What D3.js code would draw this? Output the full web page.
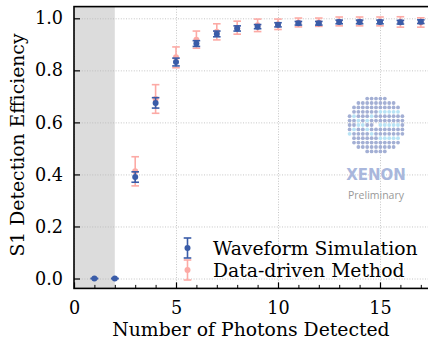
<!DOCTYPE html>
<html>
<head>
<meta charset="utf-8">
<script src="https://cdn.jsdelivr.net/npm/d3@7"></script>
<style>
body { margin: 0; background: #fff; }
svg { display: block; }
.tick text { font-family: "DejaVu Serif", serif; font-size: 17.6px; fill: #000; }
</style>
</head>
<body>
<svg id="chart" width="428" height="339"></svg>
<script>
// photons detected (x)
var photons = [1, 2, 3, 4, 5, 6, 7, 8, 9, 10, 11, 12, 13, 14, 15, 16, 17];
// waveform simulation efficiency and error
var simEff = [0.0, 0.0, 0.39, 0.675, 0.832, 0.903, 0.94, 0.961, 0.968, 0.975, 0.981, 0.981, 0.986, 0.986, 0.986, 0.985, 0.987];
var simErr = [0.0, 0.0, 0.02, 0.02, 0.015, 0.011, 0.011, 0.01, 0.008, 0.008, 0.007, 0.007, 0.007, 0.007, 0.007, 0.007, 0.007];
// data-driven method (starts at 3 photons)
var dataX = [3, 4, 5, 6, 7, 8, 9, 10, 11, 12, 13, 14, 15, 16, 17];
var dataEff = [0.412, 0.69, 0.85, 0.918, 0.948, 0.964, 0.973, 0.977, 0.984, 0.985, 0.988, 0.988, 0.988, 0.986, 0.984];
var dataErr = [0.056, 0.055, 0.04, 0.033, 0.031, 0.025, 0.024, 0.02, 0.017, 0.016, 0.017, 0.017, 0.017, 0.02, 0.018];

var xTicks = [0, 5, 10, 15];
var yTicks = [0.0, 0.2, 0.4, 0.6, 0.8, 1.0];
var seriesNames = ["Waveform Simulation", "Data-driven Method"];

var blue = "#3a5ca8";
var pink = "#fcaaa5";
var labelFont = "18.8px";

var svg = d3.select("#chart");

var x = d3.scaleLinear().domain([0, 17.5]).range([74, 431]);
var y = d3.scaleLinear().domain([-0.038, 1.045]).range([288.4, 6.6]);

// shaded region below 2 photons
svg.append("rect")
	.attr("x", x(0))
	.attr("y", y(1.045))
	.attr("width", x(2) - x(0))
	.attr("height", y(-0.038) - y(1.045))
	.attr("fill", "#dcdcdc");

// gridlines
svg.append("g")
	.attr("transform", "translate(0," + y(-0.038) + ")")
	.call(d3.axisBottom(x).tickValues(xTicks).tickSize(-(y(-0.038) - y(1.045))).tickFormat(""))
	.call(g => g.select(".domain").remove())
	.selectAll("line")
		.attr("stroke", "#b8b8b8")
		.attr("stroke-width", 0.8)
		.attr("stroke-dasharray", "1,1.6");

svg.append("g")
	.attr("transform", "translate(" + x(0) + ",0)")
	.call(d3.axisLeft(y).tickValues(yTicks).tickSize(-(x(17.5) - x(0))).tickFormat(""))
	.call(g => g.select(".domain").remove())
	.selectAll("line")
		.attr("stroke", "#b8b8b8")
		.attr("stroke-width", 0.8)
		.attr("stroke-dasharray", "1,1.6");

// XENON logo (decoration)
var logo = svg.append("g");
var cx = 376, cy = 125, pitch = 4.4;
var cyanDots = [
	[-6,-3],[-5,-2],[-4,-1],[-3,0],[-2,-1],
	[-6,2],[-5,1],[-4,0],[-2,1],[-1,-2],[-1,2],
	[1,-3],[2,-3],[3,-3],[4,-3],[5,-3],
	[1,0],[2,0],[3,0],[4,0],[5,0],
	[1,3],[2,3],[3,3],[4,3],[5,3]
];
for (var r = -6; r <= 6; ++r){
	for (var c = -6; c <= 6; ++c){
		if (Math.sqrt(r*r + c*c) > 6.6) continue;
		if (r == 0 && c == 0) continue;
		var isCyan = cyanDots.some(d => d[0] == c && d[1] == r);
		logo.append("circle")
			.attr("cx", cx + c*pitch)
			.attr("cy", cy + r*pitch)
			.attr("r", 1.9)
			.attr("fill", isCyan ? "#b8e3f5" : "#a3afd4");
	}
}
logo.append("text")
	.attr("x", cx).attr("y", 180)
	.attr("text-anchor", "middle")
	.attr("font-family", "'DejaVu Sans', sans-serif")
	.attr("font-weight", "bold")
	.attr("font-size", "15px")
	.attr("fill", "#a9b7dc")
	.text("XENON");
logo.append("text")
	.attr("x", cx).attr("y", 199)
	.attr("text-anchor", "middle")
	.attr("font-family", "'Open Sans', sans-serif")
	.attr("font-size", "10.5px")
	.attr("fill", "#999")
	.text("Preliminary");

function drawErrorbars(g, xs, ys, es, color, capW){
	g.selectAll("line.bar")
		.data(xs)
		.enter()
		.append("line")
			.attr("x1", (d,i) => x(d))
			.attr("x2", (d,i) => x(d))
			.attr("y1", (d,i) => y(ys[i] - es[i]))
			.attr("y2", (d,i) => y(ys[i] + es[i]))
			.attr("stroke", color)
			.attr("stroke-width", 1.6);
	[-1, 1].forEach(function(s){
		g.selectAll("line.cap" + (s > 0 ? "t" : "b"))
			.data(xs)
			.enter()
			.append("line")
				.attr("x1", (d,i) => x(d) - capW)
				.attr("x2", (d,i) => x(d) + capW)
				.attr("y1", (d,i) => y(ys[i] + s*es[i]))
				.attr("y2", (d,i) => y(ys[i] + s*es[i]))
				.attr("stroke", color)
				.attr("stroke-width", 1.6);
	});
	g.selectAll("circle")
		.data(xs)
		.enter()
		.append("circle")
			.attr("cx", (d,i) => x(d))
			.attr("cy", (d,i) => y(ys[i]))
			.attr("r", 3)
			.attr("fill", color);
}

drawErrorbars(svg.append("g"), dataX, dataEff, dataErr, pink, 3.8);
drawErrorbars(svg.append("g"), photons, simEff, simErr, blue, 3.8);

// axes
var xAxis = svg.append("g")
	.attr("transform", "translate(0," + y(-0.038) + ")")
	.call(d3.axisBottom(x).tickValues(xTicks).tickSize(-6).tickPadding(13).tickFormat(d3.format("d")));
xAxis.select(".domain").remove();
xAxis.selectAll(".tick line").attr("stroke", "#000").attr("stroke-width", 1.2);

// minor x ticks
svg.append("g")
	.attr("transform", "translate(0," + y(-0.038) + ")")
	.call(d3.axisBottom(x).tickValues(d3.range(1, 18).filter(d => d % 5 != 0)).tickSize(-3.5).tickFormat(""))
	.call(g => g.select(".domain").remove())
	.selectAll("line").attr("stroke", "#000").attr("stroke-width", 1);

var yAxis = svg.append("g")
	.attr("transform", "translate(" + x(0) + ",0)")
	.call(d3.axisLeft(y).tickValues(yTicks).tickSize(-6).tickPadding(11).tickFormat(d3.format(".1f")));
yAxis.select(".domain").remove();
yAxis.selectAll(".tick line").attr("stroke", "#000").attr("stroke-width", 1.2);

// frame
svg.append("rect")
	.attr("x", x(0))
	.attr("y", y(1.045))
	.attr("width", x(17.5) - x(0))
	.attr("height", y(-0.038) - y(1.045))
	.attr("fill", "none")
	.attr("stroke", "#000")
	.attr("stroke-width", 1.6);

// axis labels
svg.append("text")
	.attr("x", 251).attr("y", 336)
	.attr("text-anchor", "middle")
	.attr("font-family", "'DejaVu Serif', serif")
	.attr("font-size", labelFont)
	.attr("fill", "#000")
	.text("Number of Photons Detected");

svg.append("text")
	.attr("transform", "translate(23.5,145)rotate(-90)")
	.attr("text-anchor", "middle")
	.attr("font-family", "'DejaVu Serif', serif")
	.attr("font-size", labelFont)
	.attr("fill", "#000")
	.text("S1 Detection Efficiency");

// legend
var legend = svg.append("g");
var legendColors = [blue, pink];
seriesNames.forEach(function(name, i){
	var ly = 248 + i*22;
	var lx = 187.5;
	legend.append("line").attr("x1", lx).attr("x2", lx).attr("y1", ly - 10).attr("y2", ly + 10)
		.attr("stroke", legendColors[i]).attr("stroke-width", 1.6);
	[-10, 10].forEach(function(o){
		legend.append("line").attr("x1", lx - 3.8).attr("x2", lx + 3.8).attr("y1", ly + o).attr("y2", ly + o)
			.attr("stroke", legendColors[i]).attr("stroke-width", 1.6);
	});
	legend.append("circle").attr("cx", lx).attr("cy", ly).attr("r", 3).attr("fill", legendColors[i]);
	legend.append("text")
		.attr("x", 213).attr("y", ly + 7)
		.attr("font-family", "'DejaVu Serif', serif")
		.attr("font-size", labelFont)
		.attr("fill", "#000")
		.text(name);
});
</script>
</body>
</html>
